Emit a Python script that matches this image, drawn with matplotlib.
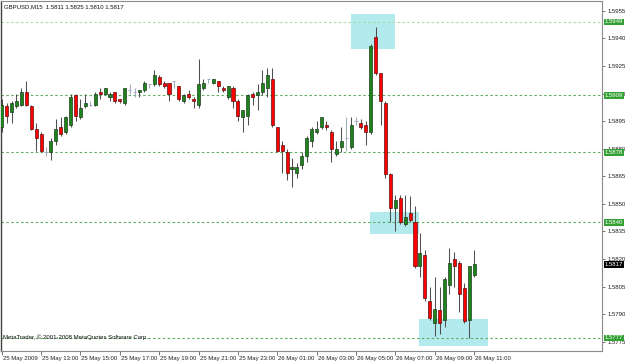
import matplotlib
matplotlib.use("Agg")
import matplotlib.pyplot as plt
import matplotlib.transforms as mtransforms
from matplotlib.patches import Rectangle
from matplotlib import font_manager

# ---------------- data ----------------
header_text = "GBPUSD,M15  1.5811 1.5825 1.5810 1.5817"
footer_text = "MetaTrader, \u00a9 2001-2008 MetaQuotes Software Corp."

opens = [1.5892, 1.5903, 1.5900, 1.5903, 1.5904, 1.5911, 1.5903, 1.5891, 1.5888, 1.5878,
         1.5878, 1.5884, 1.5892, 1.5889, 1.5893, 1.5909, 1.5897, 1.5903, 1.5904, 1.5904,
         1.5911, 1.5910, 1.5908, 1.5911, 1.5907, 1.5905, 1.5912, 1.5911, 1.5911, 1.5912,
         1.5915, 1.5915, 1.5919, 1.5916, 1.5916, 1.5917, 1.5914, 1.5906, 1.5910, 1.5907,
         1.5904, 1.5913, 1.5918, 1.5916, 1.5917, 1.5913, 1.5908, 1.5913, 1.5906, 1.5897,
         1.5898, 1.5910, 1.5909, 1.5911, 1.5913, 1.5918, 1.5892, 1.5882, 1.5878, 1.5869,
         1.5867, 1.5871, 1.5876, 1.5884, 1.5889, 1.5892, 1.5893, 1.5889, 1.5877, 1.5881,
         1.5886, 1.5881, 1.5895, 1.5894, 1.5893, 1.5889, 1.5941, 1.5921, 1.5905, 1.5866,
         1.5848, 1.5853, 1.5839, 1.5845, 1.5840, 1.5816, 1.5822, 1.5797, 1.5785, 1.5792,
         1.5787, 1.5806, 1.5820, 1.5818, 1.5804, 1.5787, 1.5811]
highs = [1.5907, 1.5905, 1.5906, 1.5910, 1.5913, 1.5917, 1.5904, 1.5894, 1.5889, 1.5881,
         1.5886, 1.5896, 1.5897, 1.5898, 1.5910, 1.5910, 1.5907, 1.5910, 1.5906, 1.5911,
         1.5913, 1.5913, 1.5911, 1.5911, 1.5907, 1.5913, 1.5915, 1.5913, 1.5912, 1.5917,
         1.5915, 1.5923, 1.5920, 1.5917, 1.5916, 1.5917, 1.5914, 1.5910, 1.5912, 1.5908,
         1.5929, 1.5918, 1.5918, 1.5918, 1.5917, 1.5914, 1.5914, 1.5914, 1.5907, 1.5901,
         1.5910, 1.5911, 1.5915, 1.5923, 1.5924, 1.5924, 1.5892, 1.5884, 1.5880, 1.5875,
         1.5872, 1.5878, 1.5887, 1.5892, 1.5895, 1.5897, 1.5895, 1.5890, 1.5884, 1.5892,
         1.5897, 1.5897, 1.5897, 1.5896, 1.5895, 1.5937, 1.5946, 1.5921, 1.5906, 1.5867,
         1.5855, 1.5855, 1.5855, 1.5854, 1.5849, 1.5834, 1.5825, 1.5805, 1.5810, 1.5805,
         1.5810, 1.5826, 1.5824, 1.5819, 1.5807, 1.5816, 1.5825]
lows = [1.5889, 1.5894, 1.5894, 1.5902, 1.5903, 1.5903, 1.5890, 1.5879, 1.5878, 1.5876,
        1.5874, 1.5882, 1.5887, 1.5888, 1.5892, 1.5895, 1.5896, 1.5902, 1.5903, 1.5903,
        1.5907, 1.5909, 1.5906, 1.5905, 1.5905, 1.5904, 1.5910, 1.5908, 1.5908, 1.5911,
        1.5913, 1.5914, 1.5914, 1.5913, 1.5906, 1.5913, 1.5906, 1.5905, 1.5907, 1.5902,
        1.5902, 1.5912, 1.5916, 1.5915, 1.5911, 1.5911, 1.5907, 1.5902, 1.5895, 1.5889,
        1.5893, 1.5904, 1.5901, 1.5909, 1.5908, 1.5892, 1.5878, 1.5867, 1.5863, 1.5859,
        1.5864, 1.5869, 1.5873, 1.5881, 1.5888, 1.5891, 1.5890, 1.5873, 1.5876, 1.5878,
        1.5879, 1.5880, 1.5893, 1.5891, 1.5882, 1.5888, 1.5920, 1.5893, 1.5864, 1.5840,
        1.5835, 1.5839, 1.5838, 1.5840, 1.5815, 1.5810, 1.5797, 1.5787, 1.5778, 1.5779,
        1.5783, 1.5801, 1.5805, 1.5791, 1.5785, 1.5777, 1.5810]
closes = [1.5904, 1.5898, 1.5905, 1.5906, 1.5911, 1.5904, 1.5891, 1.5886, 1.5879, 1.5878,
          1.5884, 1.5891, 1.5888, 1.5897, 1.5908, 1.5898, 1.5902, 1.5905, 1.5904, 1.5910,
          1.5910, 1.5913, 1.5910, 1.5906, 1.5906, 1.5913, 1.5912, 1.5911, 1.5912, 1.5916,
          1.5915, 1.5920, 1.5915, 1.5914, 1.5910, 1.5917, 1.5907, 1.5909, 1.5908, 1.5906,
          1.5915, 1.5916, 1.5918, 1.5918, 1.5914, 1.5912, 1.5914, 1.5906, 1.5898, 1.5901,
          1.5909, 1.5908, 1.5911, 1.5916, 1.5920, 1.5893, 1.5879, 1.5879, 1.5867, 1.5870,
          1.5870, 1.5876, 1.5886, 1.5891, 1.5891, 1.5897, 1.5892, 1.5880, 1.5880, 1.5884,
          1.5886, 1.5893, 1.5895, 1.5892, 1.5889, 1.5936, 1.5921, 1.5906, 1.5866, 1.5848,
          1.5852, 1.5840, 1.5843, 1.5841, 1.5816, 1.5823, 1.5799, 1.5788, 1.5793, 1.5785,
          1.5809, 1.5818, 1.5816, 1.5801, 1.5786, 1.5816, 1.5817]

x_tick_bars = [0, 8, 16, 24, 32, 40, 48, 56, 64, 72, 80, 88, 96]
x_tick_labels = ["25 May 2009", "25 May 13:00", "25 May 15:00", "25 May 17:00",
                 "25 May 19:00", "25 May 21:00", "25 May 23:00", "26 May 01:00",
                 "26 May 03:00", "26 May 05:00", "26 May 07:00", "26 May 09:00",
                 "26 May 11:00"]
y_ticks = [1.5955, 1.5940, 1.5925, 1.5910, 1.5895, 1.5880, 1.5865,
           1.5850, 1.5835, 1.5820, 1.5805, 1.5790, 1.5775]
level_prices = [1.5949, 1.5909, 1.5878, 1.5840, 1.5777]
level_labels = ["1.5949", "1.5909", "1.5878", "1.5840", "1.5777"]
bid_price = 1.5817
bid_label = "1.5817"

zone_start = [70.9, 74.9, 84.9]
zone_end = [79.9, 84.9, 98.8]
zone_top = [1.59534, 1.58456, 1.57874]
zone_bottom = [1.59343, 1.58337, 1.57724]

# ---------------- font choice ----------------
FONT = "Liberation Sans"
NARROW = False
try:
    fp = font_manager.findfont(font_manager.FontProperties(family="Liberation Sans Narrow"),
                               fallback_to_default=False)
    if "narrow" in fp.lower():
        FONT = "Liberation Sans Narrow"
        NARROW = True
except Exception:
    pass
FS = 5.2 if NARROW else 4.3

# ---------------- figure ----------------
W, H = 625, 363
fig = plt.figure(figsize=(W / 100, H / 100), dpi=100)
fig.patch.set_facecolor("white")
ax_l, ax_r, ax_t, ax_b = 1, 602, 1, 351
ax = fig.add_axes([ax_l / W, (H - ax_b) / H, (ax_r - ax_l) / W, (ax_b - ax_t) / H])
ax.set_facecolor("white")

# zones
for xs, xe, yt, yb in zip(zone_start, zone_end, zone_top, zone_bottom):
    ax.add_patch(Rectangle((xs, yb), xe - xs, yt - yb, facecolor="#b2eaee",
                           edgecolor="none", zorder=0.5))

# level lines
for i, p in enumerate(level_prices):
    col = "#a8dca8" if i == 0 else "#5fae5f"
    ax.axhline(p, color=col, linewidth=0.8, linestyle=(0, (2.2, 2.2)), zorder=1)

# candles
n = len(opens)
xs = list(range(n))
body_w = 0.62
for x, o, h, l, c in zip(xs, opens, highs, lows, closes):
    doji = abs(o - c) < 1e-9
    if doji:
        ax.vlines(x, l, h, color="#a3abbd", linewidth=0.75, zorder=2)
        ax.hlines(o, x - body_w / 2, x + body_w / 2, color="#a3abbd", linewidth=0.75, zorder=2)
        continue
    ax.vlines(x, l, h, color="#505050", linewidth=0.75, zorder=2)
    if c > o:
        fc, ec = "#1b851b", "#1f3a1f"
    else:
        fc, ec = "#ff0000", "#5a1010"
    ax.bar(x, abs(c - o), bottom=min(o, c), width=body_w, color=fc,
           edgecolor=ec, linewidth=0.5, zorder=3)

# axes limits (pixel-calibrated)
px_per_bar = 4.92
ax.set_xlim(-0.15, -0.15 + (ax_r - ax_l) / px_per_bar)
ax.set_ylim(1.57699, 1.59604)

# spines
for s in ["top", "right", "bottom"]:
    ax.spines[s].set_color("#8a8a8a")
    ax.spines[s].set_linewidth(0.8)
ax.spines["left"].set_color("#404040")
ax.spines["left"].set_linewidth(1.0)

# y ticks on right
ax.yaxis.tick_right()
ax.set_yticks(y_ticks)
ax.set_yticklabels([f"{v:.4f}" for v in y_ticks], fontsize=FS, family=FONT, color="#202020")
ax.tick_params(axis="y", direction="out", length=2.5, width=0.6, color="#606060", pad=1.2)

# x ticks
ax.set_xticks(x_tick_bars)
ax.set_xticklabels(x_tick_labels, fontsize=FS, family=FONT, color="#202020", ha="left")
ax.tick_params(axis="x", direction="out", length=3, width=0.6, color="#606060", pad=0.5)
for lbl in ax.get_xticklabels():
    lbl.set_transform(lbl.get_transform() + mtransforms.ScaledTranslation(1.0 / 100, 0, fig.dpi_scale_trans))

# price labels on right axis
trans = mtransforms.blended_transform_factory(ax.transAxes, ax.transData)
for p, t in zip(level_prices, level_labels):
    ax.text(1.0 + 3.0 / (ax_r - ax_l), p, t, transform=trans, fontsize=FS, family=FONT,
            color="white", va="center", ha="left", clip_on=False, zorder=10,
            bbox=dict(boxstyle="square,pad=0.15", facecolor="#33a033", edgecolor="none"))
ax.text(1.0 + 3.0 / (ax_r - ax_l), bid_price, bid_label, transform=trans, fontsize=FS,
        family=FONT, color="white", va="center", ha="left", clip_on=False, zorder=10,
        bbox=dict(boxstyle="square,pad=0.15", facecolor="black", edgecolor="none"))

# header / footer
fig.text(4 / W, 1 - 7 / H, header_text, fontsize=FS, family=FONT, color="#101010",
         va="center", ha="left")
fig.text(3 / W, 1 - 337 / H, footer_text, fontsize=FS, family=FONT, color="#101010",
         va="center", ha="left")

fig.savefig("out.png", dpi=100, facecolor="white")
